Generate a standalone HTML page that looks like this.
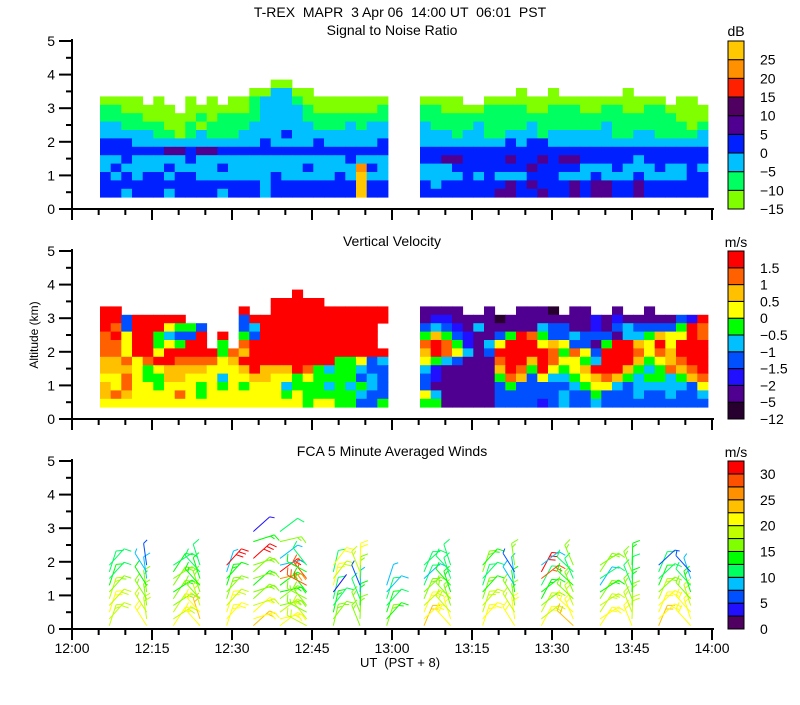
<!DOCTYPE html>
<html><head><meta charset="utf-8"><style>
body{margin:0;background:#fff;}
svg text{font-family:"Liberation Sans",sans-serif;fill:#000;white-space:pre;}
</style></head><body>
<svg id="c" width="800" height="700" xmlns="http://www.w3.org/2000/svg">
<text x="400" y="17" font-size="14" text-anchor="middle" xml:space="preserve">T-REX  MAPR  3 Apr 06  14:00 UT  06:01  PST</text>
<text x="392" y="35" font-size="14" text-anchor="middle">Signal to Noise Ratio</text>
<text x="392" y="246" font-size="14" text-anchor="middle">Vertical Velocity</text>
<text x="392" y="456" font-size="14" text-anchor="middle">FCA 5 Minute Averaged Winds</text>
<text x="736" y="36" font-size="14" text-anchor="middle">dB</text>
<text x="736" y="247" font-size="14" text-anchor="middle">m/s</text>
<text x="736" y="457" font-size="14" text-anchor="middle">m/s</text>
<text transform="translate(38,335) rotate(-90)" font-size="12" text-anchor="middle">Altitude (km)</text>
<text x="400" y="667" font-size="13" text-anchor="middle" xml:space="preserve">UT  (PST + 8)</text>
<g id="g"></g>
</svg>
<script>
// ---- axis config ----
const xTickLabels=["12:00","12:15","12:30","12:45","13:00","13:15","13:30","13:45","14:00"];
const yTickLabels=["0","1","2","3","4","5"];
const snrLevels=["-15","-10","-5","0","5","10","15","20","25"];
const velLevels=["-12","-5","-2","-1.5","-1","-0.5","0","0.5","1","1.5"];
const windLevels=["0","","5","","10","","15","","20","","25","","30"];
const snrColors=["#80ff00","#00ff60","#00c0ff","#0020ff","#500090","#500060","#ff2000","#ff9000","#ffc800"];
const velColors=["#280030","#500090","#2010ff","#0050ff","#00c0ff","#00ff00","#ffff00","#ffc000","#ff6000","#ff0000"];
const windColors=["#500060","#2010ff","#0050ff","#00c0ff","#00ff60","#00ff00","#80ff00","#c0ff00","#ffff00","#ffc000","#ff9000","#ff5000","#ff0000"];
// grid: 2-minute columns, 0.25 km rows, rows listed top (3.6 km) to bottom (0.35 km)
const segStarts=[5.25,65.25];
const rowBottoms=[3.6,3.35,3.1,2.85,2.6,2.35,2.1,1.85,1.6,1.35,1.1,0.85,0.6,0.35];
const snrLeft=["................00","..............002200","0000.0..0.0.0012221000000000","1100000.0000001222210000001","1111000001011112222111111112","2211110010111122222211121222","2222211012111222232222222222","3332222222222223222232222232","3333334434433333333333333333","2232222232222222222222232222","2322223222232222222322227322","3232332332222222322222328223","3333333333333332333333338333","3323332333323332333333338333"];
const snrRight=["",".........0..0......0.......","0000..00000000000000000.00..","1100001111001110011001100000","1111111111111111111111110000","2111121111211111121111111011","2221221122212222221122111122","2222222232332222222222222222","3333333333333333333333333333","3344333343343443333323333333","2223333333433332223222322323","2222323222333222322232222333","3233333343433343443343333333","3333333443343343443343333333"];
const velLeft=["..................9","................99999","99...........9..999999999999","99399999.....39999999999999","9839996553...3499999999999","8969954339.9.5399999999999","8869956599.5.8999999999999","8869969999958799999999999999","7786899888867999999999556345","7776567777666797779854554335","6686557766646677665655553435","7686656665656566645554545436","7876666865666666656555554336","6666666666666666666566553356"];
const velRight=["","","1111..1..1110.11..1..1.....","1221111011111111212111113299","3432141111143311213433335989","5753211359853343331445766989","8985214699967633159976969999","7986413999998586399986879999","6543111899798665499975678999","4211111798596567999754587899","3211111587364456787545545789","3111111353333345664344444367","6411111333333433533343343343","5511111333323433433333333333"];
// winds: column times (min after 12:00), heights (km), speeds (m/s), direction (deg, shaft pointing)
const windTimes=[7,14,19,24,29,34,39,44,49,54,59,66,71,77,83,88,94,99,105,110,116];
const windHeights=[0.1,0.3,0.5,0.7,0.9,1.1,1.3,1.5,1.7,1.9,2.1,2.6,2.9];
const windSpeeds=[
[17,18,19,18,17,15,12,11,10,9,null,null,null],
[19,18,17,16,15,14,12,8,7,6,null,null,null],
[19,18,17,16,14,13,15,14,12,11,null,null,null],
[21,22,20,18,15,14,13,12,10,10,null,null,null],
[21,20,19,18,16,14,13,12,7,30,null,null,null],
[22,21,19,17,15,14,13,16,15,14,30,13,3],
[21,20,18,15,14,13,12,26,29,7,7,15,10],
[18,17,16,15,14,13,28,27,12,10,null,null,null],
[16,15,13,11,10,2,20,18,9,20,null,null,null],
[15,14,14,13,11,7,6,15,17,19,null,null,null],
[14,13,12,10,9,8,7,null,null,null,null,null,null],
[22,21,20,18,16,14,9,8,10,10,null,null,null],
[21,20,18,16,15,13,12,11,9,9,null,null,null],
[20,19,18,17,14,12,11,10,16,13,null,null,null],
[20,19,17,16,14,12,8,7,5,14,null,null,null],
[19,18,17,15,13,12,10,27,29,8,null,null,null],
[22,21,20,18,16,14,13,11,10,16,null,null,null],
[21,20,18,17,15,13,8,9,14,15,null,null,null],
[20,18,17,16,14,13,11,10,16,13,null,null,null],
[22,21,20,19,17,15,12,10,9,5,null,null,null],
[21,20,19,18,16,13,9,7,5,null,null,null,null]];
const windDirs=[60,110,45,120,60,30,25,140,65,100,60,55,120,60,110,50,125,45,100,55,120];

// ---- axis functions ----
const X0=72,X1=712,T0=0,T1=120;
const panels=[{top:41,bot:209},{top:251,bot:419},{top:461,bot:629}];
const xs=m=>X0+(m-T0)/(T1-T0)*(X1-X0);
const ys=(p,h)=>panels[p].bot-h/5*(panels[p].bot-panels[p].top);
const NS="http://www.w3.org/2000/svg";
const g=document.getElementById('g');
function mk(tag,attrs,parent){const e=document.createElementNS(NS,tag);for(const k in attrs)e.setAttribute(k,attrs[k]);(parent||g).appendChild(e);return e;}

function drawField(p,left,right,colors,name){
  const grp=mk('g',{});
  
  
  [left,right].forEach((rows,s)=>{
    rows.forEach((row,r)=>{
      for(let c=0;c<27;c++){
        const ch=row[c]||'.';
        if(ch==='.')continue;
        const t=segStarts[s]+c*2;
        const x=xs(t),x2=xs(Math.min(t+2,segStarts[s]+54));
        const yb=ys(p,rowBottoms[r]),yt=ys(p,rowBottoms[r]+0.25);
        const rc=mk('rect',{x:x.toFixed(1),y:yt.toFixed(1),width:(x2-x+0.4).toFixed(1),height:(yb-yt+0.4).toFixed(1),fill:colors[+ch]},grp);
        
        
      }
    });
  });
}
drawField(0,snrLeft,snrRight,snrColors,'snr-field');
drawField(1,velLeft,velRight,velColors,'velocity-field');

// wind barbs (half barb 5 m/s, full barb 10 m/s)
const wg=mk('g',{'stroke-width':1,fill:'none'});


windTimes.forEach((t,i)=>{
  windSpeeds[i].forEach((sp,j)=>{
    if(sp===null)return;
    const x=xs(t),y=ys(2,windHeights[j]);
    const a=(windDirs[i]+(j%2?-12:12))*Math.PI/180,L=22;
    const ex=x+L*Math.cos(a),ey=y-L*Math.sin(a);
    const col=windColors[Math.min(12,Math.round(sp/2.5))];
    const b=mk('g',{stroke:col},wg);
    
    
    mk('line',{x1:x,y1:y,x2:ex,y2:ey},b);
    let n=Math.round(sp/5),k=0;
    const px=Math.cos(a-Math.PI/2),py=-Math.sin(a-Math.PI/2);
    while(n>0){
      const f=1-k*0.18,bx=x+L*f*Math.cos(a),by=y-L*f*Math.sin(a);
      const len=n>=2?7:4;
      mk('line',{x1:bx,y1:by,x2:bx+len*px+3*Math.cos(a),y2:by+len*py-3*Math.sin(a)},b);
      n-=2;k++;
    }
  });
});

// axes
panels.forEach((P,p)=>{
  const ax=mk('g',{stroke:'#000','stroke-width':2});
  
  
  mk('line',{x1:X0,y1:P.top-2,x2:X0,y2:P.bot+1},ax);
  mk('line',{x1:X0-1,y1:P.bot,x2:X1+2,y2:P.bot},ax);
  for(let h=0;h<=5;h+=0.5){
    const y=ys(p,h),maj=Number.isInteger(h);
    mk('line',{x1:X0-(maj?13:6),y1:y,x2:X0,y2:y},ax);
    if(maj){const tx=mk('text',{x:55,y:y+5,'font-size':14,'text-anchor':'end',stroke:'none'},ax);tx.textContent=yTickLabels[h];
      
      }
  }
  for(let m=0;m<=120;m+=5){
    const x=xs(m),maj=m%15===0;
    mk('line',{x1:x,y1:P.bot,x2:x,y2:P.bot+(maj?11:6)},ax);
  }
});
xTickLabels.forEach((l,i)=>{
  const tx=mk('text',{x:xs(i*15),y:653,'font-size':14,'text-anchor':'middle'});tx.textContent=l;
  
  
});

// colorbars
function colorbar(p,colors,labels,name){
  const P=panels[p],n=colors.length,h=(P.bot-P.top)/n;
  const cb=mk('g',{});
  
  
  colors.forEach((c,i)=>{
    const y=P.bot-(i+1)*h;
    mk('rect',{x:728,y:y,width:16,height:h,fill:c,stroke:'#000','stroke-width':1},cb);
    if(labels[i]){const tx=mk('text',{x:760,y:y+h+5,'font-size':14},cb);tx.textContent=labels[i].replace('-','\u2212');
      
      }
  });
}
colorbar(0,snrColors,snrLevels,'snr-colorbar');
colorbar(1,velColors,velLevels,'velocity-colorbar');
colorbar(2,windColors,windLevels,'winds-colorbar');
</script>
</body></html>
